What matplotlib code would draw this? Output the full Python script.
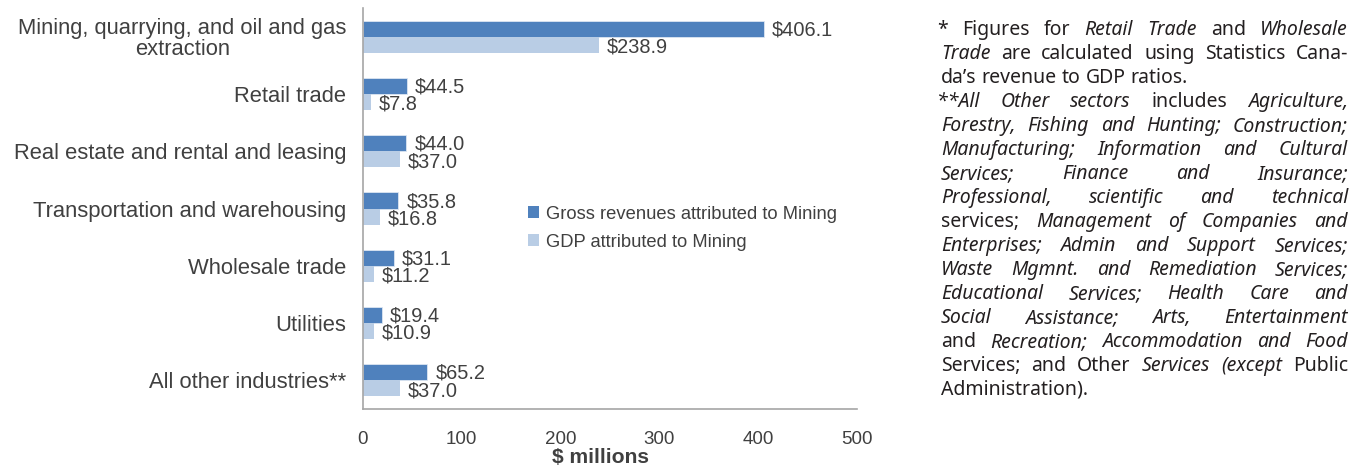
"""
Mining's economic footprint by sector: gross revenues vs GDP, with footnotes.
"""

import numpy as np
import matplotlib
matplotlib.use('Agg')
import matplotlib.pyplot as plt
from matplotlib.patches import Patch

plt.rcParams['font.family'] = ['Liberation Sans', 'DejaVu Sans']

sectors = [
    'Mining, quarrying, and oil and gas\nextraction',
    'Retail trade',
    'Real estate and rental and leasing',
    'Transportation and warehousing',
    'Wholesale trade',
    'Utilities',
    'All other industries**',
]
gross_revenues = [406.1, 44.5, 44.0, 35.8, 31.1, 19.4, 65.2]
gdp = [238.9, 7.8, 37.0, 16.8, 11.2, 10.9, 37.0]
series_names = ['Gross revenues attributed to Mining', 'GDP attributed to Mining']
x_ticks = [0, 100, 200, 300, 400, 500]

# footnote lines: list of (word, italic) pairs, plus whether the line is justified
note_lines = [
    ([('*', 0), ('Figures', 0), ('for', 0), ('Retail', 1), ('Trade', 1), ('and', 0), ('Wholesale', 1)], True),
    ([('Trade', 1), ('are', 0), ('calculated', 0), ('using', 0), ('Statistics', 0), ('Cana-', 0)], True),
    ([('da\u2019s', 0), ('revenue', 0), ('to', 0), ('GDP', 0), ('ratios.', 0)], False),
    ([('**All', 1), ('Other', 1), ('sectors', 1), ('includes', 0), ('Agriculture,', 1)], True),
    ([('Forestry,', 1), ('Fishing', 1), ('and', 1), ('Hunting;', 1), ('Construction;', 1)], True),
    ([('Manufacturing;', 1), ('Information', 1), ('and', 1), ('Cultural', 1)], True),
    ([('Services;', 1), ('Finance', 1), ('and', 1), ('Insurance;', 1)], True),
    ([('Professional,', 1), ('scientific', 1), ('and', 1), ('technical', 1)], True),
    ([('services;', 0), ('Management', 1), ('of', 1), ('Companies', 1), ('and', 1)], True),
    ([('Enterprises;', 1), ('Admin', 1), ('and', 1), ('Support', 1), ('Services;', 1)], True),
    ([('Waste', 1), ('Mgmnt.', 1), ('and', 1), ('Remediation', 1), ('Services;', 1)], True),
    ([('Educational', 1), ('Services;', 1), ('Health', 1), ('Care', 1), ('and', 1)], True),
    ([('Social', 1), ('Assistance;', 1), ('Arts,', 1), ('Entertainment', 1)], True),
    ([('and', 0), ('Recreation;', 1), ('Accommodation', 1), ('and', 1), ('Food', 1)], True),
    ([('Services;', 0), ('and', 0), ('Other', 0), ('Services', 1), ('(except', 1), ('Public', 0)], True),
    ([('Administration).', 0)], False),
]

DARK = '#4F81BD'
LIGHT = '#B9CDE5'
TEXT = '#404040'
NOTE = '#231F20'

W, H = 1363, 468
fig = plt.figure(figsize=(W / 100, H / 100), dpi=100)
ax = fig.add_axes([363 / W, 1 - 409 / H, 494 / W, 401 / H])

y = np.arange(len(sectors))
bh = 0.28
ax.barh(y - bh / 2, gross_revenues, height=bh, color=DARK, edgecolor='#DCE6F2', linewidth=0.6)
ax.barh(y + bh / 2, gdp, height=bh, color=LIGHT, edgecolor='none')

for yi, v in zip(y, gross_revenues):
    ax.text(v + 8, yi - bh / 2 + 0.02, f'${v:.1f}', va='center', ha='left', fontsize=14.4, color=TEXT)
for yi, v in zip(y, gdp):
    ax.text(v + 8, yi + bh / 2 + 0.04, f'${v:.1f}', va='center', ha='left', fontsize=14.4, color=TEXT)

ax.set_ylim(len(sectors) - 0.5, -0.5)
ax.set_xlim(0, 500)
ax.set_xticks(x_ticks)
ax.set_xticklabels([str(t) for t in x_ticks], fontsize=13.5, color=TEXT)
ax.set_yticks(y)
ax.set_yticklabels(sectors, fontsize=15.8, color=TEXT, multialignment='center',
                   linespacing=1.0)
ax.tick_params(axis='both', length=0)
ax.tick_params(axis='x', pad=16)
ax.tick_params(axis='y', pad=12)
ax.set_xlabel('$ millions', fontsize=15.2, fontweight='bold', color=TEXT)
ax.xaxis.set_label_coords(0.48, -0.098)
ax.xaxis.label.set_va('top')
for s in ['top', 'right']:
    ax.spines[s].set_visible(False)
for s in ['left', 'bottom']:
    ax.spines[s].set_color('#A6A6A6')
    ax.spines[s].set_linewidth(1.2)

handles = [Patch(facecolor=DARK, edgecolor='none'), Patch(facecolor=LIGHT, edgecolor='none')]
ax.legend(handles, series_names, loc='upper left', bbox_to_anchor=(0.30, 0.548),
          frameon=False, fontsize=13.2, handlelength=0.6, handleheight=0.6,
          handletextpad=0.4, labelspacing=0.6, labelcolor=TEXT)

# justified footnote block
renderer = fig.canvas.get_renderer()
note_font = ['Noto Sans', 'DejaVu Sans']
note_size = 14
left_first, left, right = 937, 941, 1348
base0, step = 35, 24
for i, (words, justify) in enumerate(note_lines):
    x0 = left_first if i in (0, 3) else left
    yb = 1 - (base0 + i * step) / H
    arts = []
    for w, it in words:
        t = fig.text(0, yb, w, fontsize=note_size, family=note_font,
                     style='italic' if it else 'normal', color=NOTE, va='baseline', ha='left')
        arts.append(t)
    widths = [a.get_window_extent(renderer).width for a in arts]
    sp = fig.text(0, 0, 'a a', fontsize=note_size, family=note_font)
    sa = fig.text(0, 0, 'aa', fontsize=note_size, family=note_font)
    space = sp.get_window_extent(renderer).width - sa.get_window_extent(renderer).width
    sp.remove()
    sa.remove()
    gap = space
    if justify and len(arts) > 1:
        gap = max((right - x0 - sum(widths)) / (len(arts) - 1), 2.0)
    x = x0
    for a, wd in zip(arts, widths):
        a.set_x(x / W)
        x += wd + gap

fig.savefig('out.png', dpi=100, facecolor='white')
